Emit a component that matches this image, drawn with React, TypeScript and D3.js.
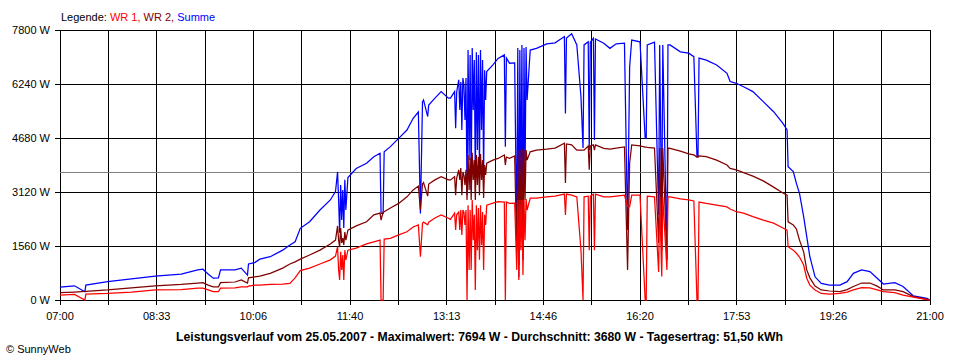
import React from "react";
import * as d3 from "d3";

// ---- data (time of day, watts) ----
const times = [
  "07:00","07:14","07:24","07:25","07:46","08:09","08:32","08:57","09:13","09:18",
  "09:23","09:28","09:33","09:35","09:49","09:55","10:01","10:02","10:08","10:13",
  "10:23","10:35","10:42","10:47","10:52","11:01","11:11","11:21","11:26","11:28",
  "11:29","11:30","11:31","11:32","11:33","11:34","11:35","11:36","11:38","11:46",
  "11:56","12:03","12:09","12:10","12:12","12:13","12:19","12:27","12:35","12:41",
  "12:46","12:48","12:50","12:51","12:55","12:56","13:02","13:08","13:15","13:17",
  "13:21","13:22","13:23","13:25","13:26","13:27","13:28","13:29","13:30","13:31",
  "13:32","13:33","13:34","13:35","13:36","13:37","13:38","13:39","13:40","13:41",
  "13:42","13:43","13:44","13:45","13:46","13:47","13:48","13:49","13:50","13:51",
  "13:52","13:58","14:03","14:09","14:10","14:11","14:14","14:19","14:21","14:22",
  "14:23","14:24","14:25","14:26","14:27","14:28","14:29","14:30","14:31","14:34",
  "14:40","14:50","14:58","15:07","15:08","15:09","15:14","15:19","15:23","15:25",
  "15:26","15:30","15:31","15:32","15:35","15:36","15:37","15:45","15:51","15:57",
  "16:05","16:08","16:10","16:12","16:20","16:25","16:26","16:27","16:34","16:38",
  "16:39","16:41","16:42","16:46","16:47","16:49","16:59","17:07","17:12","17:15",
  "17:16","17:17","17:24","17:34","17:44","17:47","17:53","18:00","18:09","18:19",
  "18:29","18:38","18:42","18:43","18:48","18:51","18:54","18:58","19:01","19:04",
  "19:09","19:15","19:23","19:33","19:40","19:46","19:54","20:02","20:09","20:15",
  "20:26","20:34","20:44","20:57","21:00"
];

const summe = [
  370,410,240,430,530,610,690,750,870,890,
  750,630,640,870,870,920,720,1040,1080,1180,
  1250,1440,1590,1680,2070,2260,2600,2890,3130,3700,
  2890,1940,3320,2310,3180,2080,3470,2600,3540,3800,
  3950,4140,4240,2500,2500,4280,4430,4670,4910,5250,
  5430,2500,5720,5780,5300,5630,5830,6020,5830,5830,
  6020,4960,6010,6360,5490,6300,4910,6410,6210,5200,
  6410,3030,7220,4040,7080,3180,7280,5490,6930,3470,
  7160,4330,7080,3760,7220,4910,6930,3610,6640,5780,
  6600,6790,6980,7080,4430,6990,6840,6850,1730,7280,
  660,7220,2890,7370,1160,7280,3470,7310,5780,7220,
  7270,7400,7430,7610,5390,7570,7690,7370,5870,4390,
  7370,7460,4330,7450,7560,4620,7540,7420,7270,7400,
  7420,2020,6740,7510,7460,4670,4670,7370,7450,2460,
  7370,2120,7370,1160,7370,7370,7170,7130,7030,4140,
  4140,6990,6930,6790,6550,6310,6260,6160,6020,5730,
  5440,5100,4910,3850,3710,3370,3080,2410,1830,1250,
  670,480,430,430,530,770,870,820,630,460,
  500,390,120,50,0
];

const wr2 = [
  210,230,250,250,290,350,410,450,490,500,
  430,380,380,500,520,580,490,640,670,690,
  770,920,1040,1100,1180,1300,1440,1620,1730,2140,
  1730,1530,2080,1650,1790,1590,1960,1730,2020,2140,
  2260,2460,2510,2310,2540,2550,2660,2790,2980,3180,
  3290,2600,3350,3390,3000,3350,3470,3560,3470,3470,
  3560,3030,3520,3760,3470,3810,3030,3700,3610,3320,
  3760,2890,4190,3180,4100,2890,4250,3470,4040,2890,
  4190,3320,4130,3030,4220,3470,4040,2950,3900,3610,
  3950,4040,4090,4190,3900,4130,4090,4160,1440,4330,
  1010,4330,2310,4390,1440,4330,2890,4330,4040,4280,
  4330,4360,4390,4530,3380,4510,4480,4330,4330,4330,
  4330,4450,3760,4450,4480,4330,4480,4380,4360,4390,
  4420,870,3960,4480,4450,4420,4420,4410,4390,1650,
  4390,1440,4390,1160,4390,4380,4300,4220,4190,4130,
  4130,4160,4140,4040,3900,3800,3760,3680,3580,3440,
  3260,3090,3030,2260,2170,2050,1730,1390,870,640,
  400,290,260,240,300,390,490,490,400,290,
  290,240,100,20,0
];

const wr1 = [
  140,160,0,170,190,230,290,300,340,340,
  290,240,240,340,350,380,380,400,430,430,
  450,460,480,640,850,920,1040,1160,1270,1540,
  870,580,1390,870,1300,580,1440,1160,1440,1500,
  1620,1680,1730,0,0,1760,1780,1880,1970,2110,
  2170,1250,2220,2250,2170,2250,2370,2460,2360,2330,
  2510,2020,2460,2540,2020,2600,1880,2600,2540,2170,
  2600,0,2740,870,2600,870,2890,1730,2460,290,
  2740,1440,2660,1160,2740,1590,2540,870,2460,2170,
  2740,2800,2840,2830,0,2830,2790,2800,870,2890,
  580,2890,1440,2890,720,2890,1730,2920,2600,2940,
  2940,2980,3000,3060,2460,3060,3030,2980,1440,0,
  2980,3000,1440,3000,3060,1440,3060,2980,2980,3000,
  3030,2700,2700,3030,3030,0,0,3000,2980,810,
  2980,680,2980,870,2980,2980,2920,2890,2860,0,
  0,2830,2790,2740,2690,2630,2550,2510,2410,2310,
  2220,2080,2020,1540,1440,1350,1240,1010,630,430,
  290,190,170,190,230,290,360,350,290,240,
  210,140,80,10,0
];

const yTicks = [0, 1560, 3120, 4680, 6240, 7800];
const xTickLabels = ["07:00","08:33","10:06","11:40","13:13","14:46","16:20","17:53","19:26","21:00"];
const average = 3680;
const legendParts = [
  { text: "Legende: ", color: "#000000" },
  { text: "WR 1, ", color: "#ff0000" },
  { text: "WR 2, ", color: "#800000" },
  { text: "Summe", color: "#0000ff" },
];
const title =
  "Leistungsverlauf vom 25.05.2007 - Maximalwert: 7694 W - Durchschnitt: 3680 W - Tagesertrag: 51,50 kWh";
const copyright = "\u00A9 SunnyWeb";

const toMin = (s: string) => {
  const [h, m] = s.split(":").map(Number);
  return h * 60 + m;
};

export default function App() {
  const W = 960, H = 360;
  const left = 60, right = 930, top = 30, bottom = 300;
  const x = d3.scaleLinear().domain([toMin("07:00"), toMin("21:00")]).range([left, right]);
  const y = d3.scaleLinear().domain([0, 7800]).range([bottom, top]);
  const [d0, d1] = x.domain();
  const nMinor = (xTickLabels.length - 1) * 2;
  const minorTicks = d3.range(nMinor + 1).map((i) => d0 + (i * (d1 - d0)) / nMinor);
  const tm = times.map(toMin);

  const mkLine = (vals: number[]) =>
    d3
      .line<number>()
      .x((i) => x(tm[i]))
      .y((i) => y(vals[i]))(d3.range(vals.length)) as string;

  const font = "'Liberation Sans', Arial, sans-serif";

  return (
    <div style={{ position: "absolute", left: 0, top: 0 }}>
      <svg width={W} height={H} style={{ display: "block", background: "#fff" }} fontFamily={font}>
        <rect x={0} y={0} width={W} height={H} fill="#fff" />
        {/* grid */}
        <g shapeRendering="crispEdges" stroke="#000" strokeWidth={1}>
          {minorTicks.map((t, i) => (
            <line key={"v" + i} x1={x(t)} x2={x(t)} y1={top} y2={bottom + 5} />
          ))}
          {yTicks.map((v) => (
            <line key={"h" + v} x1={left - 5} x2={right} y1={y(v)} y2={y(v)} />
          ))}
        </g>
        <line
          x1={left}
          x2={right}
          y1={y(average)}
          y2={y(average)}
          stroke="#808080"
          strokeWidth={1}
          shapeRendering="crispEdges"
        />
        {/* series */}
        <g fill="none" strokeWidth={1.25} strokeLinejoin="miter">
          <path d={mkLine(summe)} stroke="#0000ff" />
          <path d={mkLine(wr2)} stroke="#800000" />
          <path d={mkLine(wr1)} stroke="#ff0000" />
        </g>
        {/* y labels */}
        <g fontSize={11} fill="#000" textAnchor="end">
          {yTicks.map((v) => (
            <text key={v} x={50} y={y(v) + 4}>
              {v} W
            </text>
          ))}
        </g>
        {/* x labels */}
        <g fontSize={11} fill="#000" textAnchor="middle">
          {xTickLabels.map((lab, i) => (
            <text key={lab} x={x(minorTicks[i * 2])} y={320}>
              {lab}
            </text>
          ))}
        </g>
        {/* legend */}
        <text x={61} y={20.5} fontSize={11}>
          {legendParts.map((p) => (
            <tspan key={p.text} fill={p.color}>
              {p.text}
            </tspan>
          ))}
        </text>
        <text
          x={479.5}
          y={341}
          fontSize={12}
          fontWeight="bold"
          textAnchor="middle"
          textLength={607}
          lengthAdjust="spacingAndGlyphs"
        >
          {title}
        </text>
        <text x={6} y={352.5} fontSize={11}>
          {copyright}
        </text>
      </svg>
    </div>
  );
}
